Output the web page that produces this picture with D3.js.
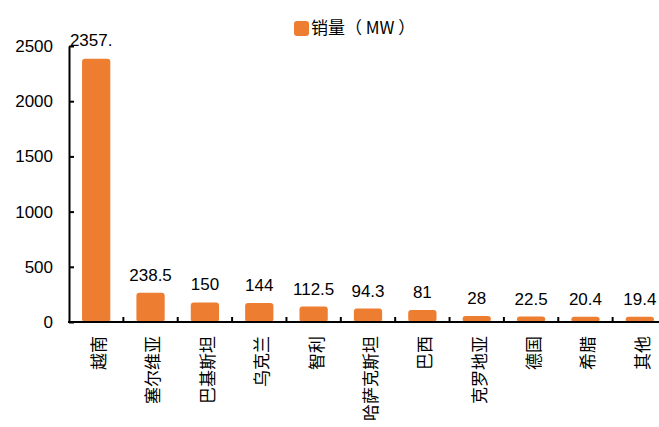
<!DOCTYPE html>
<html>
<head>
<meta charset="utf-8">
<script src="https://cdn.jsdelivr.net/npm/d3@7"></script>
<style>
  body { margin: 0; background: #fff; }
  svg { display: block; }
</style>
</head>
<body>
<div id="chart"></div>
<script>
var WIDTH = 659;
var HEIGHT = 427;

var categories = ["越南", "塞尔维亚", "巴基斯坦", "乌克兰", "智利", "哈萨克斯坦", "巴西", "克罗地亚", "德国", "希腊", "其他"];
var sales = [2357.5, 238.5, 150, 144, 112.5, 94.3, 81, 28, 22.5, 20.4, 19.4];
var valueLabels = ["2357.", "238.5", "150", "144", "112.5", "94.3", "81", "28", "22.5", "20.4", "19.4"];
var yTicks = [0, 500, 1000, 1500, 2000, 2500];
var seriesName = "销量（ MW ）";

var BAR_COLOR = "#ED7D31";
var NUM_FONT = "'Liberation Sans', Arial, sans-serif";
var CJK_FONT = "'Noto Sans CJK SC', sans-serif";

var svg = d3.select("#chart").append("svg")
    .attr("width", WIDTH)
    .attr("height", HEIGHT);

var x = d3.scaleBand()
    .domain(categories)
    .range([69, 667])
    .paddingInner(0.48)
    .paddingOuter(0.24);

var y = d3.scaleLinear()
    .domain([0, 2500])
    .range([322, 46]);

// bars
svg.selectAll(".bar")
    .data(sales)
    .enter().append("rect")
    .attr("class", "bar")
    .attr("x", function(d, i) { return x(categories[i]); })
    .attr("y", function(d) { return y(d) - 3; })
    .attr("width", x.bandwidth())
    .attr("height", function(d) { return y(0) - y(d) + 3; })
    .attr("rx", 3)
    .style("fill", BAR_COLOR);

// value labels
svg.selectAll(".vlabel")
    .data(sales)
    .enter().append("text")
    .attr("class", "vlabel")
    .attr("x", function(d, i) {
        var cx = x(categories[i]) + x.bandwidth() / 2;
        return i === 0 ? cx - 5 : cx;
    })
    .attr("y", function(d, i) { return i === 0 ? 46 : y(d) - 15; })
    .attr("text-anchor", "middle")
    .style("font-family", NUM_FONT)
    .style("font-size", "17px")
    .style("fill", "#000")
    .text(function(d, i) { return valueLabels[i]; });

// y axis
var yAxis = d3.axisLeft(y)
    .tickValues(yTicks)
    .tickFormat(d3.format("d"))
    .tickSizeInner(-5)
    .tickSizeOuter(0)
    .tickPadding(16);

var gy = svg.append("g")
    .attr("transform", "translate(69,0)")
    .call(yAxis);
gy.select(".domain").attr("stroke", "#000").attr("stroke-width", 2);
gy.selectAll(".tick line").attr("stroke", "#000").attr("stroke-width", 2);
gy.selectAll(".tick text")
    .style("font-family", NUM_FONT)
    .style("font-size", "17px")
    .style("fill", "#000");

// x axis line and boundary ticks
var gx = svg.append("g").attr("class", "xaxis");
gx.append("line")
    .attr("x1", 68).attr("x2", WIDTH)
    .attr("y1", y(0)).attr("y2", y(0))
    .attr("stroke", "#000").attr("stroke-width", 2);

var step = x.step();
gx.selectAll(".xtick")
    .data(categories.slice(1))
    .enter().append("line")
    .attr("class", "xtick")
    .attr("x1", function(d) { return x(d) - (step - x.bandwidth()) / 2; })
    .attr("x2", function(d) { return x(d) - (step - x.bandwidth()) / 2; })
    .attr("y1", y(0))
    .attr("y2", y(0) - 5)
    .attr("stroke", "#000").attr("stroke-width", 2);

// category labels, rotated
gx.selectAll(".clabel")
    .data(categories)
    .enter().append("text")
    .attr("class", "clabel")
    .attr("transform", function(d) {
        var cx = x(d) + x.bandwidth() / 2 + 3;
        return "translate(" + cx + "," + (y(0) + 14) + ") rotate(-90)";
    })
    .attr("dy", "0.35em")
    .attr("text-anchor", "end")
    .style("font-family", CJK_FONT)
    .style("font-size", "17px")
    .style("fill", "#000")
    .text(function(d) { return d; });

// legend
var legend = svg.append("g").attr("transform", "translate(294,21)");
legend.append("rect")
    .attr("width", 15).attr("height", 15)
    .attr("rx", 3)
    .style("fill", BAR_COLOR);
legend.append("text")
    .attr("x", 17)
    .attr("y", 7.5)
    .attr("dy", "0.35em")
    .style("font-family", CJK_FONT)
    .style("font-size", "17px")
    .style("fill", "#000")
    .text(seriesName);
</script>
</body>
</html>
